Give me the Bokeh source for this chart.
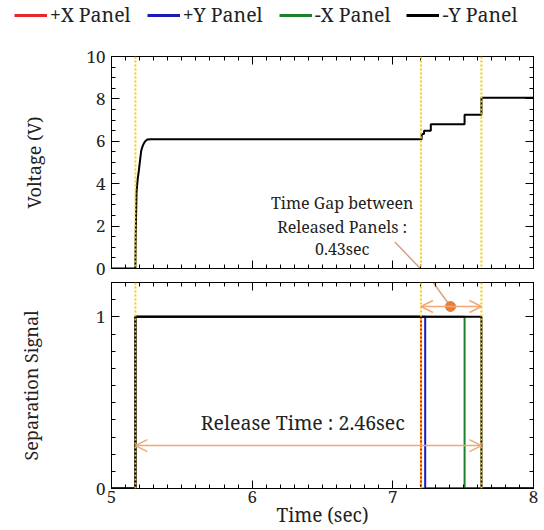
from bokeh.plotting import figure
from bokeh.models import (LinearAxis, SingleIntervalTicker, Span, Arrow, OpenHead,
                          Legend, LegendItem, Label, CustomJSTickFormatter)
from bokeh.layouts import column
from bokeh.embed import file_html
from bokeh.resources import INLINE

FONT = "Noto Serif"

# ---------------- data ----------------
volt_time = [5.00, 5.170, 5.172, 5.178, 5.186, 5.194, 5.203, 5.211, 5.220, 5.230, 5.240, 5.254,
             5.278, 7.205, 7.205, 7.222, 7.222, 7.270, 7.270, 7.510, 7.510, 7.630, 7.630, 8.00]
volt_value = [0.00, 0.00, 1.50, 3.60, 4.20, 4.60, 5.10, 5.55, 5.75, 5.90, 6.00, 6.08,
              6.10, 6.10, 6.35, 6.35, 6.50, 6.50, 6.80, 6.80, 7.25, 7.25, 8.05, 8.05]

panels = ["+X Panel", "+Y Panel", "-X Panel", "-Y Panel"]
panel_colors = ["#E8262B", "#1A1AB8", "#1F7F2A", "#000000"]
signal_on_time = [5.17, 5.17, 5.17, 5.17]
signal_off_time = [7.20, 7.23, 7.51, 7.63]
draw_order = [0, 2, 1, 3]

event_times = [5.17, 7.20, 7.63]

release_text = "Release Time : 2.46sec"
gap_text = ["Time Gap between", "Released Panels :", "0.43sec"]
gap_text_y = [3.08, 1.98, 0.90]

X0, X1 = 5, 8
ARROW_COLOR = "#F0A878"
LEADER_COLOR = "#D8A080"
DOT_COLOR = "#ED7D31"
EVENT_COLOR = "#F2CC0C"
TEXT_COLOR = "#222222"
W = 544


def style_axis(ax, labels=True, size="17px"):
    ax.axis_line_color = "black"
    ax.major_tick_line_color = "black"
    ax.minor_tick_line_color = "black"
    ax.major_tick_in = 8
    ax.major_tick_out = 0
    ax.minor_tick_in = 4
    ax.minor_tick_out = 0
    if labels:
        ax.major_label_text_font = FONT
        ax.major_label_text_font_size = size
        ax.major_label_text_color = TEXT_COLOR
    else:
        ax.formatter = CustomJSTickFormatter(code="return ''")
        ax.major_label_standoff = 0


def make_fig(height, y_range, border_top, border_bottom):
    p = figure(width=W, height=height, x_range=(X0, X1), y_range=y_range,
               output_backend="svg", toolbar_location=None,
               min_border_left=111, min_border_right=11,
               min_border_top=border_top, min_border_bottom=border_bottom)
    p.xgrid.visible = False
    p.ygrid.visible = False
    p.outline_line_color = "black"
    p.outline_line_width = 1
    return p


def axis_title(ax, text, standoff, size="18px"):
    ax.axis_label = text
    ax.axis_label_text_font = FONT
    ax.axis_label_text_font_size = size
    ax.axis_label_text_font_style = "normal"
    ax.axis_label_text_color = TEXT_COLOR
    ax.axis_label_standoff = standoff


# ---------------- legend strip ----------------
pl = figure(width=W, height=44, x_range=(0, 1), y_range=(0, 1),
            output_backend="svg", toolbar_location=None,
            x_axis_type=None, y_axis_type=None, min_border=0,
            min_border_left=0, min_border_right=0, min_border_top=0, min_border_bottom=0)
pl.outline_line_color = None
pl.xgrid.visible = False
pl.ygrid.visible = False
items = []
for name, col in zip(panels, panel_colors):
    r = pl.line(x=[-5, -4], y=[-5, -4], line_color=col, line_width=3)
    items.append(LegendItem(label=name, renderers=[r]))
legend = Legend(items=items, orientation="horizontal", location=(14, 16),
                label_text_font=FONT, label_text_font_size="19.5px",
                label_text_color=TEXT_COLOR,
                glyph_width=33, glyph_height=22, label_standoff=3, spacing=16,
                padding=0, margin=0, border_line_color=None, background_fill_alpha=0)
pl.add_layout(legend, "center")

# ---------------- top: voltage ----------------
p1 = make_fig(234, (0, 10), 12, 10)
p1.xaxis.ticker = SingleIntervalTicker(interval=1, num_minor_ticks=10)
style_axis(p1.xaxis[0], labels=False)
p1.yaxis.ticker = SingleIntervalTicker(interval=2, num_minor_ticks=4)
style_axis(p1.yaxis[0])
p1.yaxis.major_label_standoff = 6
axis_title(p1.yaxis[0], "Voltage (V)", 37)
ax = LinearAxis(ticker=SingleIntervalTicker(interval=1, num_minor_ticks=10))
style_axis(ax, labels=False)
p1.add_layout(ax, "above")
ax = LinearAxis(ticker=SingleIntervalTicker(interval=2, num_minor_ticks=4))
style_axis(ax, labels=False)
p1.add_layout(ax, "right")

for t in event_times:
    p1.add_layout(Span(location=t, dimension="height", line_color=EVENT_COLOR,
                       line_width=2, line_dash="2 2"))

p1.line(volt_time, volt_value, line_color="black", line_width=2)

# leader line (upper part)
p1.segment(x0=[7.014], y0=[1.25], x1=[7.21], y1=[-0.1], line_color=LEADER_COLOR, line_width=1.5)
for txt, ty in zip(gap_text, gap_text_y):
    p1.add_layout(Label(x=6.64, y=ty, text=txt, text_align="center",
                        text_baseline="middle", text_font=FONT, text_font_size="16px",
                        text_color=TEXT_COLOR))

# ---------------- bottom: separation signal ----------------
p2 = make_fig(252, (0, 1.2), 4, 37)
p2.xaxis.ticker = SingleIntervalTicker(interval=1, num_minor_ticks=10)
style_axis(p2.xaxis[0])
p2.xaxis.major_label_standoff = 2
axis_title(p2.xaxis[0], "Time (sec)", -4, size="19px")
p2.yaxis.ticker = SingleIntervalTicker(interval=1, num_minor_ticks=10)
style_axis(p2.yaxis[0])
p2.yaxis.major_label_standoff = 6
axis_title(p2.yaxis[0], "Separation Signal", 50)
ax = LinearAxis(ticker=SingleIntervalTicker(interval=1, num_minor_ticks=10))
style_axis(ax, labels=False)
p2.add_layout(ax, "above")
ax = LinearAxis(ticker=SingleIntervalTicker(interval=1, num_minor_ticks=10))
style_axis(ax, labels=False)
p2.add_layout(ax, "right")

for i in draw_order:
    on, off = signal_on_time[i], signal_off_time[i]
    p2.line([X0, on, on, off, off, X1], [0, 0, 1, 1, 0, 0],
            line_color=panel_colors[i], line_width=2)

for t in event_times:
    p2.add_layout(Span(location=t, dimension="height", line_color=EVENT_COLOR,
                       line_width=2, line_dash="2 2"))

# release time arrow
p2.add_layout(Arrow(x_start=event_times[0], y_start=0.25, x_end=event_times[2], y_end=0.25,
                    start=OpenHead(size=12, line_color=ARROW_COLOR, line_width=1.5),
                    end=OpenHead(size=12, line_color=ARROW_COLOR, line_width=1.5),
                    line_color=ARROW_COLOR, line_width=1.5))
p2.add_layout(Label(x=6.36, y=0.385, text=release_text, text_align="center",
                    text_baseline="middle", text_font=FONT, text_font_size="19.5px",
                    text_color=TEXT_COLOR))

# gap arrow
p2.add_layout(Arrow(x_start=event_times[1], y_start=1.06, x_end=event_times[2], y_end=1.06,
                    start=OpenHead(size=12, line_color=ARROW_COLOR, line_width=1.5),
                    end=OpenHead(size=12, line_color=ARROW_COLOR, line_width=1.5),
                    line_color=ARROW_COLOR, line_width=1.5))
p2.segment(x0=[7.27], y0=[1.22], x1=[7.41], y1=[1.06], line_color=LEADER_COLOR, line_width=1.5)
p2.scatter(x=[7.41], y=[1.06], size=10, fill_color=DOT_COLOR, line_color=DOT_COLOR)

layout = column(pl, column(p1, p2, spacing=0), spacing=0)
open("out.html", "w").write(file_html(layout, INLINE))
